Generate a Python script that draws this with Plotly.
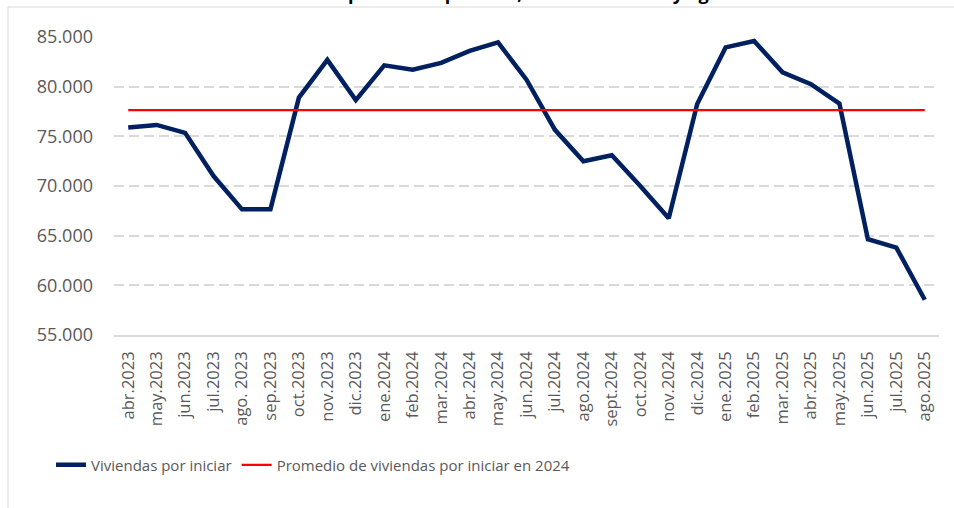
import plotly.graph_objects as go

months = ["abr.2023", "may.2023", "jun.2023", "jul.2023", "ago. 2023", "sep.2023",
          "oct.2023", "nov.2023", "dic.2023", "ene.2024", "feb.2024", "mar.2024",
          "abr.2024", "may.2024", "jun.2024", "jul.2024", "ago.2024", "sept.2024",
          "oct.2024", "nov.2024", "dic.2024", "ene.2025", "feb.2025", "mar.2025",
          "abr.2025", "may.2025", "jun.2025", "jul.2025", "ago.2025"]

viviendas = [75900, 76150, 75350, 71000, 67650, 67650,
             78900, 82700, 78650, 82150, 81700, 82400,
             83600, 84450, 80700, 75650, 72500, 73100,
             70000, 66750, 78250, 83950, 84600, 81450,
             80250, 78300, 64650, 63800, 58550]

promedio_2024 = 77650
promedio = [promedio_2024] * len(months)

y_ticks = [55000, 60000, 65000, 70000, 75000, 80000, 85000]
y_tick_text = ["55.000", "60.000", "65.000", "70.000", "75.000", "80.000", "85.000"]

title_text = "Gráfico 1: Viviendas por iniciar por mes, entre abril 2023 y agosto 2025"

W, H = 954, 508
ml, mr, mt, mb = 114, 15, 37, 173

fig = go.Figure()
fig.add_trace(go.Scatter(
    x=months, y=viviendas, mode="lines", name="Viviendas por iniciar",
    line=dict(color="#002060", width=4.5)))
fig.add_trace(go.Scatter(
    x=months, y=promedio, mode="lines", name="Promedio de viviendas por iniciar en 2024",
    line=dict(color="#FF0000", width=2.25)))

ph = H - mt - mb
pw = W - ml - mr

fig.update_layout(
    width=W, height=H,
    margin=dict(l=ml, r=mr, t=mt, b=mb, pad=0),
    paper_bgcolor="white", plot_bgcolor="white",
    font=dict(family="Open Sans, Noto Sans, sans-serif", color="#595959"),
    showlegend=True,
    legend=dict(orientation="h", xref="container", yref="container",
                x=51 / W, y=1 - 465 / H, xanchor="left", yanchor="middle",
                font=dict(family="Open Sans", size=15, color="#595959"),
                bgcolor="rgba(0,0,0,0)"),
    xaxis=dict(type="category", tickangle=-90, showgrid=False,
               range=[-0.5, len(months) - 0.5],
               showline=True, linecolor="#D9D9D9", linewidth=1.5,
               ticks="", tickfont=dict(size=16.5, color="#595959"),
               ticklabelstandoff=8, fixedrange=True),
    yaxis=dict(range=[55000, 85000], tickvals=y_ticks, ticktext=y_tick_text,
               showgrid=True, gridcolor="#D9D9D9", gridwidth=1.5, griddash="10px,5px",
               zeroline=False, showline=False, ticks="",
               tickfont=dict(size=18, color="#595959"), ticklabelstandoff=20,
               fixedrange=True),
    shapes=[dict(type="rect", xref="paper", yref="paper",
                 x0=(8 - ml) / pw, x1=(W + 10 - ml) / pw,
                 y0=(H - mb - (H + 10)) / ph, y1=(H - mb - 7) / ph,
                 line=dict(color="#D9D9D9", width=1), fillcolor="rgba(0,0,0,0)",
                 layer="below")],
    annotations=[dict(text="<b>" + title_text + "</b>", xref="paper", yref="paper",
                      x=(165 - ml) / pw, y=(H - mb + 7) / ph, xanchor="left",
                      yanchor="middle", showarrow=False,
                      font=dict(family="Open Sans", size=18, color="#000000"))],
)

fig.write_html("out.html", config={"displayModeBar": False},
               post_script="document.body.style.margin='0';")
